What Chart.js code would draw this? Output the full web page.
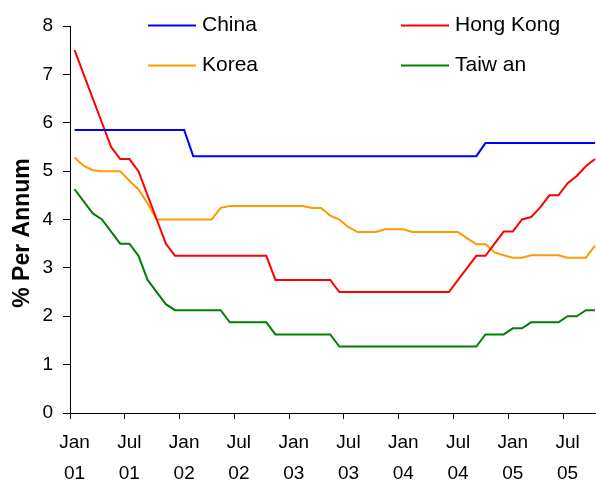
<!DOCTYPE html>
<html>
<head>
<meta charset="utf-8">
<title>Interest rates</title>
<script src="https://cdn.jsdelivr.net/npm/chart.js@4.4.0/dist/chart.umd.min.js"></script>
<style>
    html, body { margin: 0; padding: 0; background: #fff; overflow: hidden; }
    #wrap { width: 596px; height: 483px; overflow: hidden; }
    canvas { display: block; }
</style>
</head>
<body>
<div id="wrap"><canvas id="rates-chart" width="603" height="483"></canvas></div>
<script>
(function () {
    "use strict";

    // Monthly rates, Jan 01 .. Oct 05 (% per annum)
    const china = [
        5.85, 5.85, 5.85, 5.85, 5.85, 5.85, 5.85, 5.85, 5.85, 5.85, 5.85, 5.85, 5.85,
        5.31, 5.31, 5.31, 5.31, 5.31, 5.31, 5.31, 5.31, 5.31, 5.31, 5.31, 5.31, 5.31, 5.31, 5.31, 5.31,
        5.31, 5.31, 5.31, 5.31, 5.31, 5.31, 5.31, 5.31, 5.31, 5.31, 5.31, 5.31, 5.31, 5.31, 5.31, 5.31,
        5.58, 5.58, 5.58, 5.58, 5.58, 5.58, 5.58, 5.58, 5.58, 5.58, 5.58, 5.58, 5.58
    ];
    const hongKong = [
        7.5, 7.0, 6.5, 6.0, 5.5, 5.25, 5.25, 5.0, 4.5, 4.0, 3.5,
        3.25, 3.25, 3.25, 3.25, 3.25, 3.25, 3.25, 3.25, 3.25, 3.25, 3.25,
        2.75, 2.75, 2.75, 2.75, 2.75, 2.75, 2.75,
        2.5, 2.5, 2.5, 2.5, 2.5, 2.5, 2.5, 2.5, 2.5, 2.5, 2.5, 2.5, 2.5,
        2.75, 3.0, 3.25, 3.25, 3.5, 3.75, 3.75, 4.0, 4.05, 4.25, 4.5, 4.5, 4.75, 4.9, 5.1, 5.25
    ];
    const korea = [
        5.28, 5.11, 5.02, 5.0, 5.0, 5.0, 4.8, 4.62, 4.33, 4.0,
        4.0, 4.0, 4.0, 4.0, 4.0, 4.0,
        4.24,
        4.28, 4.28, 4.28, 4.28, 4.28, 4.28, 4.28, 4.28, 4.28,
        4.24, 4.24, 4.08, 4.0, 3.84, 3.74, 3.74, 3.74, 3.8, 3.8, 3.8,
        3.74, 3.74, 3.74, 3.74, 3.74, 3.74,
        3.61, 3.49, 3.49, 3.32, 3.26, 3.21, 3.21,
        3.26, 3.26, 3.26, 3.26, 3.21, 3.21, 3.21, 3.46
    ];
    const taiwan = [
        4.625, 4.375, 4.125, 4.0, 3.75, 3.5, 3.5, 3.25, 2.75, 2.5, 2.25,
        2.125, 2.125, 2.125, 2.125, 2.125, 2.125,
        1.875, 1.875, 1.875, 1.875, 1.875,
        1.625, 1.625, 1.625, 1.625, 1.625, 1.625, 1.625,
        1.375, 1.375, 1.375, 1.375, 1.375, 1.375, 1.375, 1.375,
        1.375, 1.375, 1.375, 1.375, 1.375, 1.375, 1.375, 1.375,
        1.625, 1.625, 1.625, 1.75, 1.75,
        1.875, 1.875, 1.875, 1.875, 2.0, 2.0, 2.125, 2.125
    ];

    const seriesNames = ["China", "Hong Kong", "Korea", "Taiw an"];
    const monthNames = ["Jan", "Feb", "Mar", "Apr", "May", "Jun", "Jul", "Aug", "Sep", "Oct", "Nov", "Dec"];
    const yearLabels = ["01", "02", "03", "04", "05"];
    const yTicks = [0, 1, 2, 3, 4, 5, 6, 7, 8];
    const yTitle = "% Per Annum";

    const FONT = "'Liberation Sans', Arial, sans-serif";

    // one category per month, label = [month, yy]
    const categories = [];
    yearLabels.forEach((yy) => {
        monthNames.forEach((mm) => categories.push([mm, yy]));
    });
    categories.length = china.length;

    function line(label, data, color) {
        return {
            label: label,
            data: data,
            borderColor: color,
            backgroundColor: color,
            borderWidth: 2,
            pointRadius: 0,
            tension: 0,
            fill: false
        };
    }

    // Legend in two columns inside the plot
    const legendSpots = [
        { x: 148, y: 25.5 },
        { x: 401, y: 25.5 },
        { x: 148, y: 65.5 },
        { x: 401, y: 65.5 }
    ];

    const legendPlugin = {
        id: "gridLegend",
        afterDraw(chart) {
            const ctx = chart.ctx;
            ctx.save();
            ctx.font = "21px " + FONT;
            ctx.textBaseline = "middle";
            ctx.textAlign = "left";
            chart.data.datasets.forEach((ds, i) => {
                const p = legendSpots[i];
                ctx.strokeStyle = ds.borderColor;
                ctx.lineWidth = 2;
                ctx.beginPath();
                ctx.moveTo(p.x, p.y);
                ctx.lineTo(p.x + 48, p.y);
                ctx.stroke();
                ctx.fillStyle = "#000";
                ctx.fillText(ds.label, p.x + 54, p.y);
            });
            ctx.restore();
        }
    };

    // Vertical axis title, sits a bit below the plot middle
    const yTitlePlugin = {
        id: "yTitle",
        afterDraw(chart) {
            const ctx = chart.ctx;
            ctx.save();
            ctx.translate(22.5, 233);
            ctx.rotate(-Math.PI / 2);
            ctx.font = "bold 23px " + FONT;
            ctx.fillStyle = "#000";
            ctx.textAlign = "center";
            ctx.textBaseline = "middle";
            ctx.fillText(yTitle, 0, 0);
            ctx.restore();
        }
    };

    new Chart(document.getElementById("rates-chart"), {
        type: "line",
        data: {
            labels: categories,
            datasets: [
                line(seriesNames[0], china, "#0000FF"),
                line(seriesNames[1], hongKong, "#FF0000"),
                line(seriesNames[2], korea, "#FF9900"),
                line(seriesNames[3], taiwan, "#008000")
            ]
        },
        options: {
            responsive: false,
            animation: false,
            devicePixelRatio: 1,
            layout: { padding: { top: 26, left: 0, right: 0, bottom: 0 } },
            plugins: {
                legend: { display: false },
                tooltip: { enabled: false }
            },
            scales: {
                x: {
                    type: "category",
                    offset: true,
                    grid: {
                        offset: true,
                        drawOnChartArea: false,
                        drawTicks: true,
                        tickLength: 6,
                        tickColor: (c) => (c.index % 6 === 0 ? "#000" : "rgba(0,0,0,0)")
                    },
                    border: { display: true, color: "#000", width: 1 },
                    ticks: {
                        autoSkip: false,
                        maxRotation: 0,
                        minRotation: 0,
                        padding: 8,
                        color: "#000",
                        font: { family: FONT, size: 19, lineHeight: 1.65 },
                        callback: function (v, i) {
                            return i % 6 === 0 ? this.getLabelForValue(v) : "";
                        }
                    },
                    afterFit: (s) => { s.height = 70; }
                },
                y: {
                    min: yTicks[0],
                    max: yTicks[yTicks.length - 1],
                    afterBuildTicks: (s) => { s.ticks = yTicks.map((v) => ({ value: v })); },
                    grid: {
                        drawOnChartArea: false,
                        drawTicks: true,
                        tickLength: 7,
                        tickColor: "#000"
                    },
                    border: { display: true, color: "#000", width: 1 },
                    ticks: {
                        padding: 10,
                        color: "#000",
                        font: { family: FONT, size: 19 }
                    },
                    afterFit: (s) => { s.width = 70; }
                }
            }
        },
        plugins: [legendPlugin, yTitlePlugin]
    });
})();
</script>
</body>
</html>
